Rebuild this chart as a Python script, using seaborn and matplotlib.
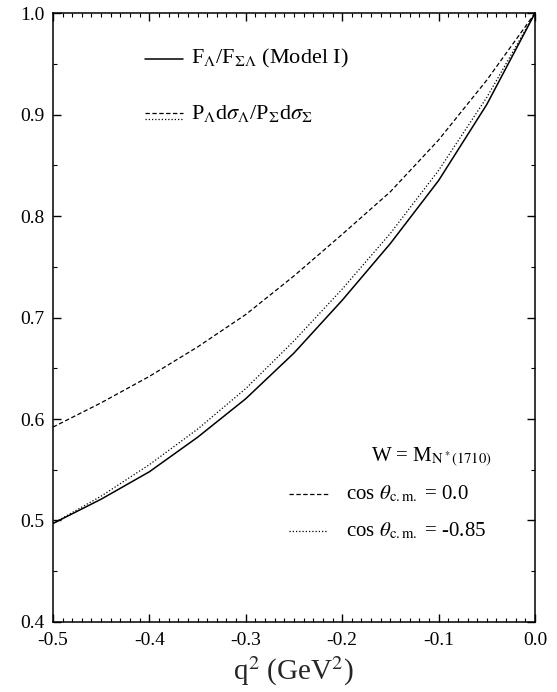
import numpy as np
import pandas as pd
import matplotlib
matplotlib.use("Agg")
import matplotlib.pyplot as plt
import seaborn as sns
from matplotlib.ticker import MultipleLocator, FormatStrFormatter

# ---- data ----
q2 = [-0.5, -0.45, -0.4, -0.35, -0.3, -0.25, -0.2, -0.15, -0.1, -0.05, 0.0]
ratio_model = [0.497, 0.521, 0.548, 0.582, 0.620, 0.665, 0.717, 0.773, 0.835, 0.910, 1.0]
ratio_cos0 = [0.592, 0.616, 0.642, 0.671, 0.703, 0.741, 0.782, 0.824, 0.875, 0.934, 1.0]
ratio_cos085 = [0.497, 0.524, 0.555, 0.590, 0.630, 0.677, 0.728, 0.783, 0.845, 0.917, 1.0]

x_ticks = [-0.5, -0.4, -0.3, -0.2, -0.1, 0.0]
y_ticks = [0.4, 0.5, 0.6, 0.7, 0.8, 0.9, 1.0]

sns.set_style("ticks")
plt.rcParams["font.family"] = ["Liberation Serif", "DejaVu Serif"]
plt.rcParams["mathtext.fontset"] = "stix"

fig = plt.figure(figsize=(5.57, 6.92), dpi=100)
ax = fig.add_axes([0.095, 0.1012, 0.8655, 0.8798])

df_model = pd.DataFrame({"q2": q2, "r": ratio_model})
df_c0 = pd.DataFrame({"q2": q2, "r": ratio_cos0})
df_c85 = pd.DataFrame({"q2": q2, "r": ratio_cos085})

sns.lineplot(data=df_model, x="q2", y="r", ax=ax, color="black", lw=1.1)
sns.lineplot(data=df_c0, x="q2", y="r", ax=ax, color="black", lw=0.9)
ax.lines[-1].set_dashes((3.5, 2))
sns.lineplot(data=df_c85, x="q2", y="r", ax=ax, color="black", lw=0.9)
ax.lines[-1].set_dashes((1, 1.6))

ax.set_xlim(-0.5, 0.0)
ax.set_ylim(0.4, 1.0)
ax.set_xticks(x_ticks)
ax.set_yticks(y_ticks)
ax.xaxis.set_minor_locator(MultipleLocator(0.01))
ax.yaxis.set_minor_locator(MultipleLocator(0.05))
ax.xaxis.set_major_formatter(FormatStrFormatter("%.1f"))
ax.yaxis.set_major_formatter(FormatStrFormatter("%.1f"))
ax.tick_params(which="both", direction="in", top=True, right=True, colors="black")
ax.tick_params(which="major", length=6, width=1, labelsize=14)
ax.tick_params(axis="x", which="major", pad=7)
ax.tick_params(axis="y", which="major", pad=6)
ax.tick_params(which="minor", length=3, width=0.8)
for s in ax.spines.values():
    s.set_visible(True)
    s.set_linewidth(1.1)
    s.set_color("black")

ax.set_xlabel(r"q$^2$ (GeV$^2$)", fontsize=21, labelpad=4)
ax.set_ylabel("")

# legends as text + short lines
tf = dict(fontsize=16, color="black", va="center", ha="left")
bf = dict(fontsize=15, color="black", va="center", ha="left")
ax.plot([-0.404, -0.365], [0.955, 0.955], color="black", lw=1.1)
ax.text(-0.357, 0.955, r"F$_\Lambda$/F$_{\Sigma\Lambda}$ (Model I)", **tf)
ax.plot([-0.404, -0.365], [0.902, 0.902], color="black", lw=0.9, dashes=(3.5, 2))
ax.plot([-0.404, -0.365], [0.896, 0.896], color="black", lw=0.9, dashes=(1, 1.6))
ax.text(-0.357, 0.901, r"P$_\Lambda$d$\sigma_\Lambda$/P$_\Sigma$d$\sigma_\Sigma$", **tf)

ax.text(-0.170, 0.562, r"W = M$_{\mathrm{N}^*(1710)}$", **bf)
ax.plot([-0.255, -0.215], [0.526, 0.526], color="black", lw=0.9, dashes=(3.5, 2))
ax.text(-0.196, 0.526, r"cos $\theta_{\mathrm{c.m.}}$ = 0.0", **bf)
ax.plot([-0.255, -0.215], [0.490, 0.490], color="black", lw=0.9, dashes=(1, 1.6))
ax.text(-0.196, 0.490, r"cos $\theta_{\mathrm{c.m.}}$ = -0.85", **bf)

fig.savefig("out.png", dpi=100)
